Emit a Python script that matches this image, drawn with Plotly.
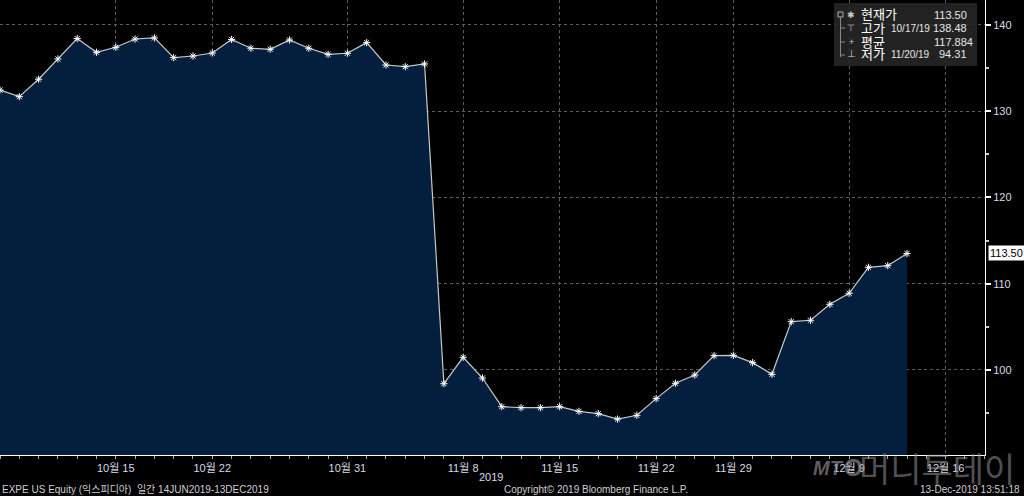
import plotly.graph_objects as go

# ---- data ----
dates = ["10/07", "10/08", "10/09", "10/10", "10/11", "10/14", "10/15", "10/16", "10/17", "10/18",
         "10/21", "10/22", "10/23", "10/24", "10/25", "10/28", "10/29", "10/30", "10/31",
         "11/01", "11/04", "11/05", "11/06", "11/07", "11/08", "11/11", "11/12", "11/13", "11/14", "11/15",
         "11/18", "11/19", "11/20", "11/21", "11/22", "11/25", "11/26", "11/27", "11/29",
         "12/02", "12/03", "12/04", "12/05", "12/06", "12/09", "12/10", "12/11", "12/12"]
axis_dates = dates + ["12/13", "12/16", "12/17"]
prices = [132.44, 131.67, 133.69, 136.04, 138.40, 136.81, 137.39, 138.35, 138.48, 136.19,
          136.38, 136.73, 138.30, 137.28, 137.16, 138.24, 137.28, 136.58, 136.70,
          137.93, 135.34, 135.14, 135.46, 98.41, 101.47, 99.07, 95.75, 95.63, 95.63, 95.75,
          95.21, 94.94, 94.31, 94.75, 96.68, 98.46, 99.42, 101.66, 101.70,
          100.85, 99.50, 105.60, 105.76, 107.61, 108.89, 111.90, 112.09, 113.50]
tick_dates = ["10/15", "10/22", "10/31", "11/08", "11/15", "11/22", "11/29", "12/09", "12/16"]
tick_labels = ["10월 15", "10월 22", "10월 31", "11월 8", "11월 15", "11월 22", "11월 29", "12월 9", "12월 16"]
y_ticks = [100, 110, 120, 130, 140]
average_value = 117.884

x_idx = list(range(len(dates)))
tick_pos = [axis_dates.index(d) for d in tick_dates]

cur = prices[-1]
hi = max(prices); hi_date = dates[prices.index(hi)]
lo = min(prices); lo_date = dates[prices.index(lo)]

FONT = "Liberation Sans, Noto Sans CJK KR, sans-serif"
LBL = "#d6dbe4"

fig = go.Figure()
fig.add_trace(go.Scatter(
    x=x_idx, y=prices, mode="lines+markers",
    line=dict(color="#c8c8c8", width=1.2),
    marker=dict(symbol="asterisk-open", size=6, color="white", line=dict(color="white", width=1)),
    fill="tozeroy", fillcolor="#031f3d", hoverinfo="skip"))

fig.update_layout(
    width=1024, height=496, margin=dict(l=0, r=39, t=0, b=41, autoexpand=False),
    paper_bgcolor="black", plot_bgcolor="black", showlegend=False,
    font=dict(family=FONT, size=11, color=LBL),
    xaxis=dict(range=[0, 51.04], tickmode="array", tickvals=tick_pos, ticktext=tick_labels,
               showgrid=True, gridcolor="#5a5f66", griddash="dot", gridwidth=1,
               showline=True, linecolor="white", linewidth=1, zeroline=False,
               ticks="outside", ticklen=3, tickcolor="#aaaaaa", automargin=False,
               minor=dict(dtick=1, tick0=0, ticks="outside", ticklen=3, tickcolor="#aaaaaa", showgrid=False),
               tickfont=dict(size=11, color=LBL, family=FONT)),
    yaxis=dict(side="right", range=[90.15, 142.87], tickmode="array", tickvals=y_ticks,
               showgrid=True, gridcolor="#5a5f66", griddash="dot", gridwidth=1,
               showline=True, linecolor="white", linewidth=1, zeroline=False,
               ticks="outside", ticklen=5, tickwidth=2, tickcolor="white", automargin=False,
               minor=dict(dtick=5, tick0=0, ticks="outside", ticklen=3, tickcolor="#cccccc", showgrid=False),
               tickfont=dict(size=11, color=LBL, family=FONT)),
)

def px(xp):
    return xp / 985.0

def py(yp):
    return 1 - yp / 455.0

ann = []
# current price tag
ann.append(dict(x=1, xref="paper", y=cur, yref="y", xanchor="left", xshift=3,
                text=f"{cur:.2f}", showarrow=False, bgcolor="white", borderpad=1,
                font=dict(color="black", size=11, family=FONT)))
# year label
ann.append(dict(x=px(491), y=py(477), xref="paper", yref="paper", text="2019", showarrow=False,
                yanchor="middle", font=dict(size=11, color=LBL)))

# legend box
fig.add_shape(type="rect", xref="paper", yref="paper", x0=px(834), x1=px(977), y0=py(66), y1=py(3),
              fillcolor="rgba(40,40,40,0.85)", line=dict(width=0), layer="above")
fig.add_shape(type="rect", xref="paper", yref="paper", x0=px(838), x1=px(843), y0=py(17), y1=py(12),
              fillcolor="rgba(0,0,0,0)", line=dict(color="#aaaaaa", width=1), layer="above")
fig.add_shape(type="line", xref="paper", yref="paper", x0=px(840.5), x1=px(840.5), y0=py(57), y1=py(17),
              line=dict(color="#888888", width=1), layer="above")
for yy in (28, 42, 55):
    fig.add_shape(type="line", xref="paper", yref="paper", x0=px(840.5), x1=px(845), y0=py(yy), y1=py(yy),
                  line=dict(color="#888888", width=1), layer="above")

rows = [(15, "✱", "현재가", "", f"{cur:.2f}", 969),
        (28, "⊤", "고가", f"{hi_date}/19", f"{hi:.2f}", 969),
        (42, "+", "평균", "", f"{average_value:.3f}", 975),
        (54, "⊥", "저가", f"{lo_date}/19", f"{lo:.2f}", 969)]
for yy, sym, name, dt, val, rx in rows:
    ann.append(dict(x=px(851), y=py(yy), xref="paper", yref="paper", text=sym, showarrow=False,
                    xanchor="center", yanchor="middle", font=dict(size=9, color="#cccccc")))
    ann.append(dict(x=px(859), y=py(yy), xref="paper", yref="paper", text=name, showarrow=False,
                    xanchor="left", yanchor="middle", font=dict(size=13, color="white")))
    if dt:
        ann.append(dict(x=px(889), y=py(yy), xref="paper", yref="paper", text=dt, showarrow=False,
                        xanchor="left", yanchor="middle", font=dict(size=10, color="#e6e6e6")))
    ann.append(dict(x=px(rx), y=py(yy), xref="paper", yref="paper", text=val, showarrow=False,
                    xanchor="right", yanchor="middle", font=dict(size=11, color="#e6e6e6")))

# footer
FY = py(489)
ann.append(dict(x=0, y=FY, xref="paper", yref="paper", xanchor="left", yanchor="middle",
                text="EXPE US Equity (익스피디아)  일간 14JUN2019-13DEC2019", showarrow=False,
                font=dict(size=10, color="#cfcfcf")))
ann.append(dict(x=px(502), y=FY, xref="paper", yref="paper", xanchor="left", yanchor="middle",
                text="Copyright© 2019 Bloomberg Finance L.P.", showarrow=False,
                font=dict(size=10, color="#cfcfcf")))
ann.append(dict(x=px(1022), y=FY, xref="paper", yref="paper", xanchor="right", yanchor="middle",
                text="13-Dec-2019 13:51:18", showarrow=False,
                font=dict(size=10, color="#cfcfcf")))
# watermark
WY = py(468)
ann.append(dict(x=px(811), y=WY, xref="paper", yref="paper", xanchor="left", yanchor="middle",
                text="<b><i>MT</i></b>", showarrow=False,
                font=dict(size=20, color="rgba(150,150,150,0.65)", family="Liberation Sans")))
ann.append(dict(x=px(853), y=WY, xref="paper", yref="paper", xanchor="center", yanchor="middle",
                text="<b>O</b>", showarrow=False,
                font=dict(size=24, color="rgba(150,150,150,0.65)", family="Liberation Sans")))
ann.append(dict(x=px(937), y=WY, xref="paper", yref="paper", xanchor="center", yanchor="middle",
                text="머니투데이", showarrow=False,
                font=dict(size=34, color="rgba(150,150,150,0.55)", family="Noto Sans CJK KR")))

fig.update_layout(annotations=ann)
fig.write_html("out.html", config={"displayModeBar": False},
               post_script="document.body.style.margin='0';document.body.style.overflow='hidden';")
